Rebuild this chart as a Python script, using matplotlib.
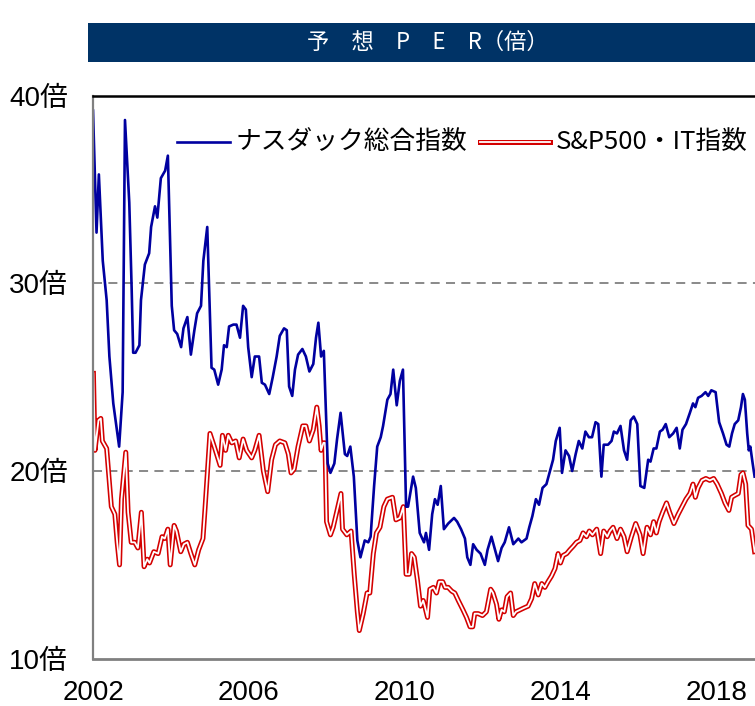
import matplotlib
matplotlib.use("Agg")
import matplotlib.pyplot as plt
from matplotlib.lines import Line2D
from matplotlib.patches import Rectangle

# ナスダック総合指数 予想PER (decimal year, value)
nasdaq_t = [2002.00, 2002.09, 2002.15, 2002.25, 2002.35, 2002.42, 2002.52, 2002.67, 2002.76, 2002.82,
            2002.93, 2002.99, 2003.03, 2003.09, 2003.19, 2003.23, 2003.33, 2003.44, 2003.49, 2003.59,
            2003.65, 2003.74, 2003.85, 2003.92, 2004.02, 2004.08, 2004.16, 2004.26, 2004.32, 2004.42,
            2004.51, 2004.60, 2004.67, 2004.77, 2004.83, 2004.93, 2005.04, 2005.11, 2005.21, 2005.30,
            2005.36, 2005.43, 2005.49, 2005.60, 2005.68, 2005.77, 2005.85, 2005.92, 2005.98, 2006.07,
            2006.15, 2006.26, 2006.33, 2006.41, 2006.52, 2006.61, 2006.71, 2006.79, 2006.90, 2006.97,
            2007.03, 2007.11, 2007.18, 2007.26, 2007.37, 2007.46, 2007.55, 2007.65, 2007.72, 2007.78,
            2007.85, 2007.92, 2008.02, 2008.09, 2008.19, 2008.26, 2008.35, 2008.46, 2008.52, 2008.60,
            2008.69, 2008.78, 2008.86, 2008.97, 2009.06, 2009.12, 2009.21, 2009.29, 2009.38, 2009.44,
            2009.55, 2009.63, 2009.70, 2009.79, 2009.87, 2009.95, 2010.03, 2010.08, 2010.21, 2010.28,
            2010.38, 2010.49, 2010.54, 2010.62, 2010.70, 2010.77, 2010.84, 2010.92, 2011.00, 2011.11,
            2011.26, 2011.34, 2011.44, 2011.54, 2011.60, 2011.68, 2011.75, 2011.84, 2011.94, 2012.05,
            2012.12, 2012.22, 2012.31, 2012.39, 2012.48, 2012.56, 2012.67, 2012.78, 2012.91, 2012.99,
            2013.12, 2013.19, 2013.27, 2013.36, 2013.44, 2013.53, 2013.63, 2013.72, 2013.80, 2013.87,
            2013.97, 2014.03, 2014.12, 2014.21, 2014.29, 2014.38, 2014.46, 2014.55, 2014.63, 2014.72,
            2014.80, 2014.89, 2014.96, 2015.04, 2015.10, 2015.21, 2015.30, 2015.36, 2015.44, 2015.53,
            2015.62, 2015.70, 2015.79, 2015.87, 2015.96, 2016.04, 2016.14, 2016.24, 2016.30, 2016.38,
            2016.45, 2016.54, 2016.61, 2016.69, 2016.78, 2016.88, 2016.97, 2017.05, 2017.12, 2017.21,
            2017.31, 2017.39, 2017.45, 2017.52, 2017.61, 2017.71, 2017.78, 2017.86, 2017.97, 2018.06,
            2018.16, 2018.25, 2018.32, 2018.39, 2018.46, 2018.55, 2018.62, 2018.67, 2018.72, 2018.78,
            2018.82, 2018.86, 2018.92, 2018.97]
nasdaq_per = [39.2, 32.7, 35.8, 31.2, 29.1, 26.1, 23.6, 21.3, 24.2, 38.7,
              34.3, 29.8, 26.3, 26.3, 26.7, 29.1, 31.0, 31.6, 33.0, 34.1,
              33.5, 35.6, 36.0, 36.8, 28.8, 27.5, 27.3, 26.6, 27.6, 28.2,
              26.2, 27.5, 28.4, 28.8, 31.2, 33.0, 25.5, 25.4, 24.6, 25.4,
              26.7, 26.6, 27.7, 27.8, 27.8, 27.1, 28.8, 28.6, 26.6, 25.0,
              26.1, 26.1, 24.7, 24.6, 24.1, 25.0, 26.1, 27.2, 27.6, 27.5,
              24.5, 24.0, 25.4, 26.2, 26.5, 26.1, 25.3, 25.7, 27.1, 27.9,
              26.1, 26.4, 20.4, 19.9, 20.4, 21.7, 23.1, 20.9, 20.8, 21.3,
              19.7, 16.3, 15.4, 16.3, 16.2, 16.5, 19.2, 21.3, 21.8, 22.4,
              23.8, 24.1, 25.4, 23.5, 24.8, 25.4, 18.1, 18.1, 19.7, 19.1,
              16.7, 16.2, 16.7, 15.8, 17.7, 18.5, 18.2, 19.2, 16.9, 17.2,
              17.5, 17.3, 16.9, 16.4, 15.4, 15.0, 16.1, 15.8, 15.6, 15.0,
              15.8, 16.5, 15.8, 15.2, 15.9, 16.2, 17.0, 16.1, 16.4, 16.2,
              16.4, 17.0, 17.6, 18.5, 18.2, 19.1, 19.3, 20.0, 20.6, 21.6,
              22.3, 19.9, 21.1, 20.8, 20.0, 20.9, 21.6, 21.2, 22.1, 21.8,
              21.8, 22.6, 22.5, 19.7, 21.4, 21.4, 21.6, 22.1, 22.0, 22.4,
              21.1, 20.6, 22.7, 22.9, 22.5, 19.2, 19.1, 20.6, 20.5, 21.2,
              21.2, 22.1, 22.2, 22.5, 21.8, 22.0, 22.3, 21.2, 22.2, 22.5,
              23.1, 23.6, 23.4, 23.9, 24.0, 24.2, 24.0, 24.3, 24.2, 22.6,
              22.0, 21.4, 21.3, 22.0, 22.5, 22.7, 23.4, 24.1, 23.8, 22.0,
              21.1, 21.3, 20.4, 19.7]

# S&P500・IT指数 予想PER
spit_t = [2002.01, 2002.05, 2002.14, 2002.20, 2002.24, 2002.35, 2002.40, 2002.47, 2002.56, 2002.62,
          2002.68, 2002.73, 2002.84, 2002.90, 2002.98, 2003.07, 2003.15, 2003.24, 2003.31, 2003.39,
          2003.45, 2003.56, 2003.67, 2003.77, 2003.84, 2003.92, 2003.98, 2004.08, 2004.14, 2004.25,
          2004.33, 2004.42, 2004.51, 2004.61, 2004.71, 2004.82, 2004.87, 2005.00, 2005.11, 2005.26,
          2005.32, 2005.40, 2005.47, 2005.56, 2005.66, 2005.75, 2005.85, 2005.94, 2006.07, 2006.15,
          2006.26, 2006.37, 2006.48, 2006.58, 2006.68, 2006.79, 2006.92, 2007.01, 2007.08, 2007.16,
          2007.26, 2007.38, 2007.46, 2007.55, 2007.65, 2007.74, 2007.80, 2007.85, 2007.91, 2007.95,
          2007.99, 2008.09, 2008.16, 2008.26, 2008.36, 2008.40, 2008.51, 2008.62, 2008.70, 2008.78,
          2008.83, 2008.93, 2009.03, 2009.10, 2009.19, 2009.27, 2009.36, 2009.46, 2009.55, 2009.68,
          2009.77, 2009.87, 2009.96, 2010.03, 2010.11, 2010.17, 2010.24, 2010.32, 2010.40, 2010.47,
          2010.51, 2010.58, 2010.64, 2010.73, 2010.81, 2010.88, 2010.97, 2011.03, 2011.11, 2011.20,
          2011.28, 2011.37, 2011.49, 2011.58, 2011.67, 2011.74, 2011.79, 2011.88, 2011.99, 2012.09,
          2012.20, 2012.26, 2012.35, 2012.41, 2012.48, 2012.55, 2012.62, 2012.71, 2012.78, 2012.85,
          2012.95, 2013.05, 2013.16, 2013.25, 2013.33, 2013.42, 2013.51, 2013.59, 2013.67, 2013.76,
          2013.85, 2013.93, 2013.99, 2014.06, 2014.15, 2014.23, 2014.32, 2014.40, 2014.49, 2014.57,
          2014.66, 2014.73, 2014.81, 2014.92, 2015.02, 2015.10, 2015.19, 2015.26, 2015.34, 2015.44,
          2015.53, 2015.62, 2015.70, 2015.81, 2015.92, 2016.03, 2016.11, 2016.21, 2016.30, 2016.38,
          2016.45, 2016.52, 2016.61, 2016.71, 2016.79, 2016.90, 2017.01, 2017.11, 2017.21, 2017.31,
          2017.39, 2017.45, 2017.52, 2017.62, 2017.72, 2017.82, 2017.92, 2018.01, 2018.12, 2018.21,
          2018.31, 2018.38, 2018.46, 2018.55, 2018.62, 2018.67, 2018.74, 2018.80, 2018.89, 2018.97]
spit_per = [25.2, 21.1, 22.7, 22.8, 21.6, 21.2, 19.9, 18.1, 17.7, 16.2,
            15.0, 18.5, 21.0, 17.8, 16.2, 16.2, 15.9, 17.8, 14.9, 15.3,
            15.1, 15.7, 15.6, 16.5, 16.4, 16.9, 15.0, 17.1, 16.8, 15.7,
            16.1, 16.2, 15.6, 15.0, 15.8, 16.4, 17.9, 22.0, 21.3, 20.3,
            21.9, 21.1, 21.9, 21.5, 21.6, 20.7, 21.7, 21.1, 20.7, 21.1,
            21.9, 20.0, 18.9, 20.6, 21.4, 21.6, 21.5, 20.9, 19.9, 20.1,
            21.3, 22.4, 22.4, 21.6, 22.2, 23.4, 22.4, 21.1, 21.5, 21.5,
            17.3, 16.6, 17.0, 17.9, 18.8, 16.9, 16.6, 16.8, 14.5, 12.5,
            11.5, 12.4, 13.5, 13.5, 15.6, 16.7, 17.0, 18.1, 18.5, 18.6,
            17.4, 17.5, 18.1, 14.5, 14.5, 15.6, 15.4, 14.2, 12.8, 13.1,
            12.8, 12.2, 13.7, 13.8, 13.5, 14.1, 14.1, 13.8, 13.8, 13.6,
            13.5, 13.1, 12.6, 12.2, 11.7, 11.7, 12.4, 12.4, 12.3, 12.5,
            13.7, 13.5, 12.9, 12.1, 12.6, 12.5, 13.3, 13.5, 12.3, 12.5,
            12.6, 12.7, 12.8, 13.2, 14.0, 13.4, 14.0, 13.8, 14.1, 14.4,
            14.8, 15.6, 15.1, 15.5, 15.6, 15.8, 16.0, 16.2, 16.3, 16.7,
            16.5, 16.8, 16.6, 16.9, 15.6, 16.8, 16.5, 16.8, 17.0, 16.4,
            16.9, 16.5, 15.7, 16.5, 17.2, 16.6, 15.6, 17.0, 16.6, 17.3,
            16.7, 17.3, 17.8, 18.3, 17.8, 17.2, 17.7, 18.1, 18.5, 18.8,
            19.3, 18.6, 19.1, 19.5, 19.6, 19.5, 19.6, 19.3, 18.8, 18.3,
            17.9, 18.6, 18.7, 18.8, 19.8, 19.9, 19.3, 17.1, 16.9, 15.7]

y_ticks = [10, 20, 30, 40]
y_labels = ['10倍', '20倍', '30倍', '40倍']
x_ticks = [2002, 2006, 2010, 2014, 2018]
title = '予\u3000想\u3000P\u3000E\u3000R（倍）'
names = ['ナスダック総合指数', 'S&P500・IT指数']

plt.rcParams['font.family'] = ['Liberation Sans', 'Noto Sans CJK JP']

fig = plt.figure(figsize=(7.55, 7.06), dpi=100)
ax = fig.add_axes([0.1232, 0.067, 0.8768, 0.7976])

# title bar
fig.patches.append(Rectangle((0.1166, 0.912), 0.8834, 0.0552, transform=fig.transFigure,
                             facecolor='#003366', edgecolor='none'))
fig.text(0.567, 0.9405, title, color='white', ha='center', va='center', fontsize=16,
         family=['Noto Sans CJK JP'])

red_c = '#d40000'
blue_c = '#0000a0'
ax.plot(spit_t, spit_per, color=red_c, lw=3.6, solid_joinstyle='round')
ax.plot(spit_t, spit_per, color='white', lw=1.3, solid_joinstyle='round')
ax.plot(nasdaq_t, nasdaq_per, color=blue_c, lw=1.9)

for v in [20, 30]:
    ax.axhline(v, color='#808080', lw=1.3, ls=(0, (5, 3.5)), zorder=0)

ax.set_xlim(2002, 2018.98)
ax.set_ylim(10, 40)
ax.set_yticks(y_ticks)
ax.set_yticklabels(y_labels)
ax.set_xticks(x_ticks)
ax.tick_params(length=0, labelsize=20)
ax.tick_params(axis='y', pad=18)
ax.tick_params(axis='x', pad=15)

ax.spines['right'].set_visible(False)
ax.spines['top'].set_color('black')
ax.spines['top'].set_linewidth(1.8)
ax.spines['left'].set_color('#808080')
ax.spines['left'].set_linewidth(1.6)
ax.spines['bottom'].set_color('#808080')
ax.spines['bottom'].set_linewidth(2)

# legend drawn by hand (double line for the red series)
ly = 0.7985
fig.add_artist(Line2D([0.2344, 0.3046], [ly, ly], color=blue_c, lw=1.9))
fig.text(0.3125, ly, names[0], va='center', ha='left', fontsize=18.5,
         family=['Noto Sans CJK JP'])
fig.add_artist(Line2D([0.6358, 0.7285], [ly, ly], color=red_c, lw=3.6))
fig.add_artist(Line2D([0.6358, 0.7285], [ly, ly], color='white', lw=1.3))
fig.text(0.7365, ly, names[1], va='center', ha='left', fontsize=18.5,
         family=['Noto Sans CJK JP'])

fig.savefig('out.png', dpi=100)
